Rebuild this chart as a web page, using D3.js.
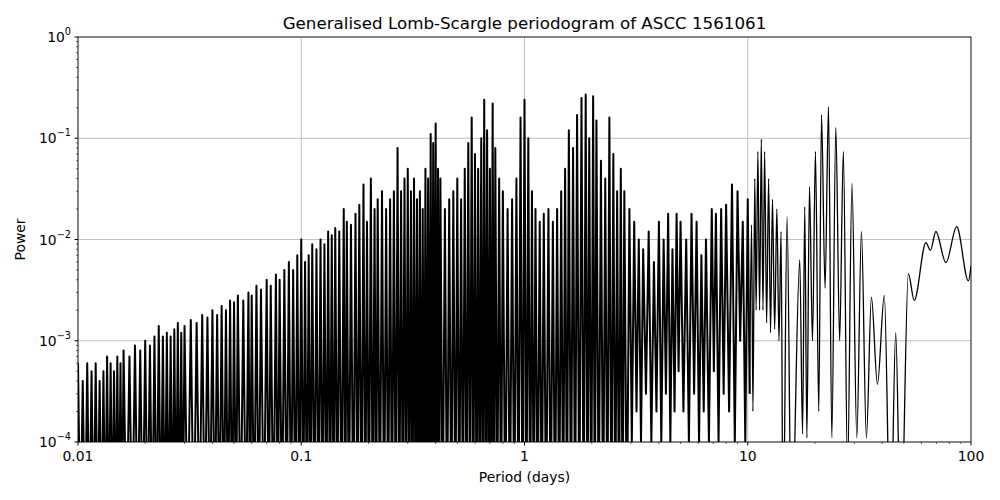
<!DOCTYPE html>
<html><head><meta charset="utf-8">
<script src="https://cdn.jsdelivr.net/npm/d3@7"></script>
<style>body{margin:0;background:#fff}text{font-family:"DejaVu Sans",sans-serif}</style>
</head><body><svg id="c" width="1000" height="500"></svg>
<script>
// dense short-period peaks (period, power)
const peakPeriods=[0.010,0.0105,0.011,0.0115,0.012,0.0125,0.013,0.0135,0.014,0.0145,0.015,0.0155,0.016,0.017,0.018,0.019,0.020,0.021,0.022,0.023,0.024,0.025,0.026,0.027,0.028,0.029,0.030,0.032,0.034,0.036,0.038,0.040,0.042,0.044,0.046,0.048,0.050,0.052,0.055,0.058,0.060,0.063,0.066,0.070,0.073,0.077,0.080,0.084,0.088,0.092,0.096,0.100,0.104,0.108,0.112,0.117,0.122,0.127,0.132,0.137,0.142,0.148,0.155,0.160,0.167,0.175,0.182,0.190,0.197,0.205,0.213,0.220,0.230,0.240,0.250,0.260,0.270,0.280,0.290,0.300,0.310,0.320,0.330,0.340,0.350,0.360,0.370,0.380,0.390,0.400,0.410,0.420,0.440,0.460,0.480,0.500,0.520,0.540,0.560,0.580,0.600,0.620,0.640,0.660,0.680,0.700,0.720,0.740,0.770,0.800,0.840,0.880,0.920,0.960,1.00,1.04,1.08,1.12,1.17,1.22,1.28,1.34,1.40,1.46,1.52,1.58,1.65,1.72,1.80,1.88,1.95,2.03,2.10,2.20,2.30,2.40,2.50,2.60,2.70,2.80,2.95,3.10,3.25,3.40,3.60,3.80,4.00,4.20,4.40,4.60,4.80,5.00,5.30,5.60,5.90,6.20,6.50,6.90,7.20,7.60,8.00,8.50,9.00,9.50,10.0];
const peakPowers=[6e-4,4e-4,6e-4,5e-4,6e-4,4e-4,5e-4,7e-4,6e-4,5e-4,7e-4,6e-4,8e-4,7e-4,9e-4,8e-4,1e-3,9e-4,1.1e-3,1.4e-3,1.1e-3,1.2e-3,1.1e-3,1.3e-3,1.5e-3,1.2e-3,1.4e-3,1.6e-3,1.5e-3,1.8e-3,1.7e-3,2e-3,1.8e-3,2.2e-3,2e-3,2.5e-3,2.4e-3,2.8e-3,2.5e-3,3e-3,2.8e-3,3.5e-3,3.2e-3,4e-3,3.5e-3,4.5e-3,4e-3,5e-3,6e-3,5e-3,7e-3,1e-2,6e-3,7e-3,9e-3,8e-3,1e-2,9e-3,1.2e-2,1.1e-2,1.3e-2,1.2e-2,2e-2,1.5e-2,1.4e-2,1.8e-2,2.2e-2,3.5e-2,1.5e-2,4e-2,2e-2,2.5e-2,3e-2,2e-2,2.5e-2,3e-2,8e-2,3e-2,4e-2,5e-2,3e-2,4e-2,2.5e-2,3e-2,2e-2,5e-2,4e-2,1.1e-1,9e-2,1.4e-1,5e-2,4e-2,2e-2,2.5e-2,3e-2,4e-2,2.5e-2,5e-2,9e-2,1.6e-1,7e-2,5e-2,1e-1,2.4e-1,1.2e-1,5e-2,2.2e-1,8e-2,4e-2,3e-2,2e-2,2.5e-2,4e-2,1.6e-1,2.4e-1,1e-1,3e-2,2e-2,1.5e-2,1.8e-2,2e-2,1.5e-2,2e-2,3e-2,5e-2,1.2e-1,8e-2,1.7e-1,2.5e-1,2.7e-1,1e-1,2.6e-1,1.5e-1,6e-2,4e-2,1.6e-1,7e-2,3e-2,5e-2,3e-2,2e-2,1.5e-2,1e-2,8e-3,1.2e-2,6e-3,1.5e-2,1e-2,1.8e-2,8e-3,1.8e-2,1.5e-2,1e-2,1.8e-2,1.5e-2,7e-3,1e-2,2e-2,1.8e-2,2e-2,2.2e-2,3.5e-2,3e-2,1.5e-2,2.5e-2];
// troughs below the axis between short-period peaks
const deepTroughPeriods=[0.01025,0.01075,0.01125,0.01175,0.01225,0.01275,0.01325,0.01375,0.01425,0.01475,0.01525,0.01575,0.0165,0.0175,0.0185,0.0195,0.0205,0.0215,0.0225,0.0235,0.0245,0.0255,0.0265,0.0275,0.0285,0.0295,0.031,0.033,0.035,0.037,0.039,0.041,0.043,0.045,0.047,0.049,0.051,0.0535,0.0565,0.059,0.0615,0.0645,0.068,0.0715,0.075,0.0785,0.082,0.086,0.090,0.094,0.098,0.102,0.106,0.110,0.1145,0.1195,0.1245,0.1295,0.1345,0.1395,0.145,0.1515,0.1575,0.1635,0.171,0.1785,0.186,0.1935,0.201,0.209,0.2165,0.225,0.235,0.245,0.255,0.265,0.275,0.285,0.295,0.305,0.315,0.325,0.335,0.345,0.355,0.365,0.375,0.385,0.395,0.405,0.415,0.43,0.45,0.47,0.49,0.51,0.53,0.55,0.57,0.59,0.61,0.63,0.65,0.67,0.69,0.71,0.73,0.755,0.785,0.82,0.86,0.90,0.94,0.98,1.02,1.06,1.10,1.145,1.195,1.25,1.31,1.37,1.43,1.49,1.55,1.615,1.685,1.76,1.84,1.915,1.99,2.065,2.15,2.25,2.35,2.45,2.55,2.65,2.75,2.875];
const deepTroughPower=1e-5;
const midTroughPeriods=[3.025,3.175,3.325,3.5,3.7,3.9,4.1,4.3,4.5,4.7,4.9,5.15,5.45,5.75,6.05,6.35,6.7,7.05,7.4,7.8,8.25,8.75,9.25,9.75];
const midTroughPowers=[1e-4,2e-4,1e-4,3e-4,1e-4,2e-4,1e-4,3e-4,1e-4,2e-4,5e-4,2e-4,1e-4,3e-4,1e-4,2e-4,1e-4,5e-4,1e-4,3e-4,2e-4,1e-4,1e-3,1e-4];
// long-period oscillation, consecutive samples
const longPeriods=[10.2,10.4,10.55,10.75,10.9,11.1,11.3,11.5,11.7,11.9,12.15,12.4,12.65,12.9,13.2,13.5,13.8,14.1,14.4,15.0,15.7,17.1,17.6,18.0,18.4,18.9,19.5,20.1,20.8,21.4,22.2,23.0,23.8,24.8,25.8,26.8,28.0,29.3,30.8,32.3,34.0,35.8,38.1,40.9,43.6,46.0,48.5,52.4,55.7,62.8,65.8,69.6,77.2,86.3,97.3,100];
const longPowers=[3e-4,0.014,2e-4,0.04,2e-3,0.074,2e-3,0.098,2e-3,0.074,1.5e-3,0.04,1.2e-3,0.025,1.3e-3,0.02,1e-3,0.012,1e-5,0.0168,1e-5,0.0063,1.2e-4,0.021,1.1e-4,0.033,1e-3,0.074,2e-4,0.17,0.0033,0.205,1.1e-4,0.128,1e-3,0.074,5e-5,0.036,1.1e-4,0.012,1.1e-4,0.0027,3.7e-4,0.0028,1e-5,0.0012,1e-5,0.0046,0.0025,0.0093,0.0078,0.012,0.0059,0.0134,0.0039,0.0055];
const xTicks=[0.01,0.1,1,10,100], xTickLabels=["0.01","0.1","1","10","100"];
const yTicks=[1e-4,1e-3,1e-2,1e-1,1], yExp=["−4","−3","−2","−1","0"];

const svg=d3.select("#c"),L=78,R=971,T=37,B=442;
const x=d3.scaleLog().domain([0.01,100]).range([L,R]);
const y=d3.scaleLog().domain([1e-4,1]).range([B,T]);
const dense=[];
peakPeriods.forEach((p,i)=>dense.push([p,peakPowers[i]]));
deepTroughPeriods.forEach(p=>dense.push([p,deepTroughPower]));
midTroughPeriods.forEach((p,i)=>dense.push([p,midTroughPowers[i]]));
dense.sort((a,b)=>a[0]-b[0]);
const longPts=longPeriods.map((p,i)=>[p,longPowers[i]]);
svg.append("clipPath").attr("id","cp").append("rect").attr("x",L).attr("y",T).attr("width",R-L).attr("height",B-T);
const g=svg.append("g");
xTicks.forEach(t=>g.append("line").attr("x1",x(t)).attr("x2",x(t)).attr("y1",T).attr("y2",B).attr("stroke","#b0b0b0").attr("stroke-width",0.8));
yTicks.forEach(t=>g.append("line").attr("y1",y(t)).attr("y2",y(t)).attr("x1",L).attr("x2",R).attr("stroke","#b0b0b0").attr("stroke-width",0.8));
const ln=d3.line().x(d=>x(d[0])).y(d=>y(Math.max(d[1],1e-6)));
g.append("path").datum(dense.concat([longPts[0]])).attr("clip-path","url(#cp)").attr("fill","none").attr("stroke","#000").attr("stroke-width",2).attr("stroke-linejoin","round").attr("d",ln);
g.append("path").datum(longPts).attr("clip-path","url(#cp)").attr("fill","none").attr("stroke","#000").attr("stroke-width",1.3).attr("d",ln.curve(d3.curveMonotoneX));
svg.append("rect").attr("x",L).attr("y",T).attr("width",R-L).attr("height",B-T).attr("fill","none").attr("stroke","#000").attr("stroke-width",0.8);
for(let d=-2;d<2;d++)for(let k=2;k<10;k++){const v=k*Math.pow(10,d);svg.append("line").attr("x1",x(v)).attr("x2",x(v)).attr("y1",B).attr("y2",B+2).attr("stroke","#000").attr("stroke-width",0.6);}
for(let d=-4;d<0;d++)for(let k=2;k<10;k++){const v=k*Math.pow(10,d);svg.append("line").attr("y1",y(v)).attr("y2",y(v)).attr("x1",L).attr("x2",L-2).attr("stroke","#000").attr("stroke-width",0.6);}
xTicks.forEach((t,i)=>{svg.append("line").attr("x1",x(t)).attr("x2",x(t)).attr("y1",B).attr("y2",B+3.5).attr("stroke","#000");
 svg.append("text").attr("x",x(t)).attr("y",B+19).attr("text-anchor","middle").attr("font-size",13.9).text(xTickLabels[i]);});
yTicks.forEach((t,i)=>{svg.append("line").attr("y1",y(t)).attr("y2",y(t)).attr("x1",L).attr("x2",L-3.5).attr("stroke","#000");
 const tx=svg.append("text").attr("x",L-7).attr("y",y(t)+5).attr("text-anchor","end").attr("font-size",13.9);
 tx.append("tspan").text("10");tx.append("tspan").attr("dy",-7).attr("font-size",9.7).text(yExp[i]);});
svg.append("text").attr("x",(L+R)/2).attr("y",482).attr("text-anchor","middle").attr("font-size",13.9).text("Period (days)");
svg.append("text").attr("transform",`translate(25,${(T+B)/2}) rotate(-90)`).attr("text-anchor","middle").attr("font-size",13.9).text("Power");
svg.append("text").attr("x",(L+R)/2).attr("y",29).attr("text-anchor","middle").attr("font-size",16.7).text("Generalised Lomb-Scargle periodogram of ASCC 1561061");
</script></body></html>
